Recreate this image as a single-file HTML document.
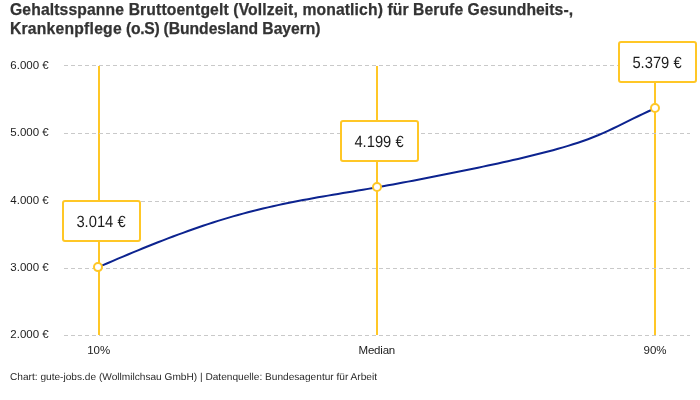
<!DOCTYPE html>
<html lang="de">
<head>
<meta charset="utf-8">
<title>Gehaltsspanne Bruttoentgelt</title>
<style>
html,body{margin:0;padding:0;background:#fff;}
body{width:700px;height:400px;position:relative;overflow:hidden;font-family:"Liberation Sans",sans-serif;color:#333;}
.t{position:absolute;white-space:nowrap;line-height:1;}
.title{font-weight:bold;font-size:15.7px;color:#333;left:10px;-webkit-text-stroke:0.25px #333;}
.yl{font-size:11.5px;color:#1c1c1c;left:10.3px;}
.xl{font-size:11.5px;color:#1c1c1c;transform:translateX(-50%);}
.box{position:absolute;box-sizing:border-box;width:79px;height:42px;border:2px solid #ffc726;border-radius:3px;background:#fff;
 font-size:16.2px;text-rendering:geometricPrecision;color:#1c1c1c;text-align:center;line-height:40px;white-space:nowrap;}
.foot{font-size:9.9px;text-rendering:geometricPrecision;color:#2a2a2a;left:10.2px;transform:scaleX(1.025);transform-origin:0 50%;}
.box span{display:inline-block;transform:scaleX(0.91);transform-origin:50% 50%;}
svg{position:absolute;left:0;top:0;}
</style>
</head>
<body>
<svg width="700" height="400" viewBox="0 0 700 400">
 <g stroke="#ffc726" stroke-width="2" shape-rendering="crispEdges">
  <line x1="99" y1="66" x2="99" y2="335"/>
  <line x1="377" y1="66" x2="377" y2="335"/>
  <line x1="655" y1="66" x2="655" y2="335"/>
 </g>
 <g stroke="#c9c9c9" stroke-width="1" stroke-dasharray="4 3" shape-rendering="crispEdges">
  <line x1="64" y1="65.5" x2="690" y2="65.5"/>
  <line x1="64" y1="133.5" x2="690" y2="133.5"/>
  <line x1="64" y1="201.5" x2="690" y2="201.5"/>
  <line x1="64" y1="268.5" x2="690" y2="268.5"/>
  <line x1="64" y1="335.5" x2="690" y2="335.5"/>
 </g>
 <path id="curve" fill="none" stroke="#0c238f" stroke-width="2" stroke-linecap="round" stroke-linejoin="round"
  d="M98.0,267.30 L103.0,265.13 L108.0,262.98 L113.0,260.83 L118.0,258.70 L123.0,256.58 L128.0,254.48 L133.0,252.40 L138.0,250.34 L143.0,248.29 L148.0,246.27 L153.0,244.27 L158.0,242.29 L163.0,240.34 L168.0,238.42 L173.0,236.52 L178.0,234.65 L183.0,232.82 L188.0,231.01 L193.0,229.24 L198.0,227.50 L203.0,225.79 L208.0,224.12 L213.0,222.50 L218.0,220.91 L223.0,219.36 L228.0,217.85 L233.0,216.38 L238.0,214.96 L243.0,213.59 L248.0,212.26 L253.0,210.97 L258.0,209.72 L263.0,208.52 L268.0,207.35 L273.0,206.22 L278.0,205.12 L283.0,204.05 L288.0,203.02 L293.0,202.01 L298.0,201.03 L303.0,200.08 L308.0,199.15 L313.0,198.24 L318.0,197.35 L323.0,196.48 L328.0,195.62 L333.0,194.77 L338.0,193.94 L343.0,193.10 L348.0,192.27 L353.0,191.43 L358.0,190.59 L363.0,189.74 L368.0,188.88 L373.0,188.01 L378.0,187.13 L383.0,186.24 L388.0,185.33 L393.0,184.42 L398.0,183.50 L403.0,182.58 L408.0,181.64 L413.0,180.69 L418.0,179.74 L423.0,178.78 L428.0,177.81 L433.0,176.83 L438.0,175.85 L443.0,174.85 L448.0,173.85 L453.0,172.84 L458.0,171.83 L463.0,170.80 L468.0,169.77 L473.0,168.73 L478.0,167.69 L483.0,166.63 L488.0,165.57 L493.0,164.50 L498.0,163.42 L503.0,162.32 L508.0,161.21 L513.0,160.08 L518.0,158.93 L523.0,157.75 L528.0,156.56 L533.0,155.34 L538.0,154.09 L543.0,152.82 L548.0,151.51 L553.0,150.17 L558.0,148.79 L563.0,147.37 L568.0,145.88 L573.0,144.33 L578.0,142.70 L583.0,140.99 L588.0,139.19 L593.0,137.28 L598.0,135.26 L603.0,133.11 L608.0,130.86 L613.0,128.52 L618.0,126.11 L623.0,123.66 L628.0,121.19 L633.0,118.72 L638.0,116.27 L643.0,113.88 L648.0,111.53 L653.0,109.22 L655.0,108.30"/>
 <g fill="#fff" stroke="#ffc726" stroke-width="2">
  <circle cx="98" cy="267.1" r="4"/>
  <circle cx="377" cy="187" r="4"/>
  <circle cx="655" cy="108" r="4"/>
 </g>
</svg>
<div class="t title" id="t1" style="top:2px;"><span style="letter-spacing:0.13px;">Gehaltsspanne Bruttoentgelt (Vollzeit, monatlich) </span><span style="letter-spacing:0.07px;">für Berufe Gesundheits-,</span></div>
<div class="t title" id="t2" style="top:21px;"><span style="letter-spacing:0.22px;">Krankenpflege</span><span style="letter-spacing:-0.26px;"> (o.S) </span><span style="letter-spacing:-0.05px;">(Bundesland Bayern)</span></div>

<div class="t yl" style="top:60px;">6.000 €</div>
<div class="t yl" style="top:127px;">5.000 €</div>
<div class="t yl" style="top:195px;">4.000 €</div>
<div class="t yl" style="top:262px;">3.000 €</div>
<div class="t yl" style="top:329px;">2.000 €</div>

<div class="t xl" style="left:98.7px;top:345px;">10%</div>
<div class="t xl" style="left:376.8px;top:345px;letter-spacing:-0.2px;">Median</div>
<div class="t xl" style="left:655px;top:345px;">90%</div>

<div class="box" style="left:62px;top:200px;"><span>3.014 €</span></div>
<div class="box" style="left:340px;top:120px;"><span>4.199 €</span></div>
<div class="box" style="left:618px;top:41px;"><span>5.379 €</span></div>

<div class="t foot" id="ft" style="top:373px;">Chart: gute-jobs.de (Wollmilchsau GmbH) | Datenquelle: Bundesagentur für Arbeit</div>
</body>
</html>
